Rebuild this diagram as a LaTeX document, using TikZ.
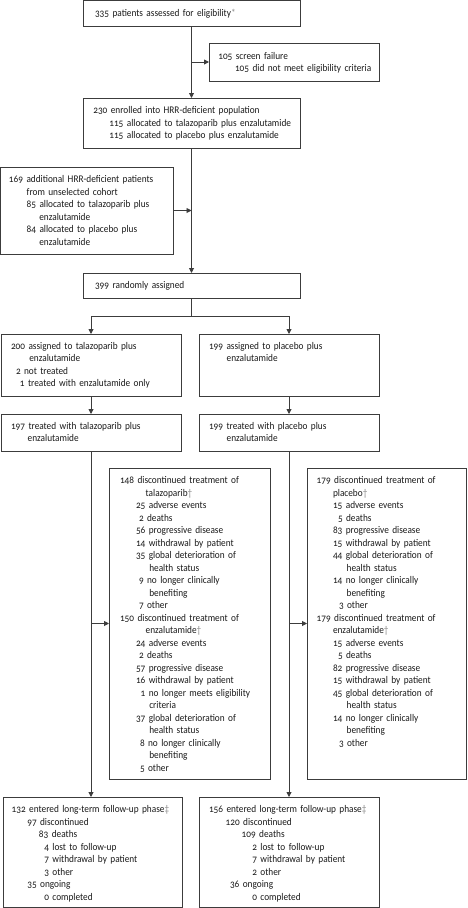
\documentclass[tikz,border=0pt]{standalone}
\usepackage{fontspec}
\setmainfont{Carlito}[Numbers=OldStyle, FakeStretch=0.91]
\usetikzlibrary{arrows.meta}
\definecolor{ln}{HTML}{3C3C3C}
\definecolor{tx}{HTML}{1A1A1A}
\definecolor{mk}{HTML}{8A8A8A}
\newcommand{\fs}{\rule{0pt}{9pt}}
\newcommand{\ind}[1]{\hspace*{#1pt}}
\newcommand{\dg}{{\color{mk}\textdagger}}
\newcommand{\ddg}{{\color{mk}\textdaggerdbl}}
\tikzset{
  frame/.style={draw=ln, line width=0.9pt, inner sep=0pt, outer sep=0pt, anchor=north west},
  txt/.style={anchor=north west, inner sep=0pt, outer sep=0pt, align=left, text width=220pt, text=tx, font=\fontsize{10.2}{12.5}\selectfont},
  conn/.style={draw=ln, line width=0.9pt},
  arr/.style={conn, -{Triangle[length=5pt,width=5pt]}},
}
\begin{document}
\begin{tikzpicture}[x=1pt,y=-1pt]
\useasboundingbox (0,0) rectangle (467,908);
% boxes
\node[frame, minimum width=217pt, minimum height=26pt] (b335) at (83,0.5) {};
\node[frame, minimum width=170pt, minimum height=38pt] (bscr) at (209,43) {};
\node[frame, minimum width=217pt, minimum height=50pt] (b230) at (83,98) {};
\node[frame, minimum width=172.5pt, minimum height=87pt] (b169) at (0.5,167) {};
\node[frame, minimum width=217pt, minimum height=25pt] (b399) at (83,273) {};
\node[frame, minimum width=180pt, minimum height=62pt] (b200) at (1,334) {};
\node[frame, minimum width=180pt, minimum height=62pt] (b199a) at (199,334) {};
\node[frame, minimum width=180pt, minimum height=37pt] (b197) at (1,414) {};
\node[frame, minimum width=180pt, minimum height=37pt] (b199t) at (199,414) {};
\node[frame, minimum width=161pt, minimum height=311pt] (b148) at (109,468) {};
\node[frame, minimum width=159pt, minimum height=311pt] (b179) at (307,468) {};
\node[frame, minimum width=179pt, minimum height=110pt] (bfl) at (3,797) {};
\node[frame, minimum width=180pt, minimum height=110pt] (bfr) at (199,797) {};
% texts
\node[txt] (t335) at (95,7.5) {\fs 335 patients assessed for eligibility{\color{mk}*}};
\node[txt] (tscr) at (218.3,50) {\fs 105 screen failure\\ \ind{16.7}105 did not meet eligibility criteria};
\node[txt] (t230) at (93.3,104.5) {\fs 230 enrolled into HRR-deficient population\\ \ind{16}115 allocated to talazoparib plus enzalutamide\\ \ind{16}115 allocated to placebo plus enzalutamide};
\node[txt] (t169) at (9,173.5) {\fs 169 additional HRR-deficient patients\\ \ind{17.7}from unselected cohort\\ \ind{17.7}85 allocated to talazoparib plus\\ \ind{30.3}enzalutamide\\ \ind{17.7}84 allocated to placebo plus\\ \ind{30.3}enzalutamide};
\node[txt] (t399) at (95,279.5) {\fs 399 randomly assigned};
\node[txt] (t200) at (11,340) {\fs 200 assigned to talazoparib plus\\ \ind{18.3}enzalutamide\\ \ind{5}2 not treated\\ \ind{9}1 treated with enzalutamide only};
\node[txt] (t199a) at (209,340) {\fs 199 assigned to placebo plus\\ \ind{17.7}enzalutamide};
\node[txt] (t197) at (11,420) {\fs 197 treated with talazoparib plus\\ \ind{16.7}enzalutamide};
\node[txt] (t199t) at (209,420) {\fs 199 treated with placebo plus\\ \ind{17.7}enzalutamide};
\node[txt] (t148) at (120,474.5) {\fs 148 discontinued treatment of\\
\ind{25.7}talazoparib\dg\\
\ind{16}25 adverse events\\
\ind{19}2 deaths\\
\ind{16}56 progressive disease\\
\ind{16}14 withdrawal by patient\\
\ind{16}35 global deterioration of\\
\ind{29.3}health status\\
\ind{19}9 no longer clinically\\
\ind{29.3}benefiting\\
\ind{19}7 other\\
150 discontinued treatment of\\
\ind{25.7}enzalutamide\dg\\
\ind{16}24 adverse events\\
\ind{19}2 deaths\\
\ind{16}57 progressive disease\\
\ind{16}16 withdrawal by patient\\
\ind{20.7}1 no longer meets eligibility\\
\ind{29.3}criteria\\
\ind{16}37 global deterioration of\\
\ind{29.3}health status\\
\ind{20}8 no longer clinically\\
\ind{29.3}benefiting\\
\ind{20}5 other};
\node[txt] (t179) at (316.7,474.5) {\fs 179 discontinued treatment of\\
\ind{16.3}placebo\dg\\
\ind{16.3}15 adverse events\\
\ind{21.3}5 deaths\\
\ind{16.3}83 progressive disease\\
\ind{16.3}15 withdrawal by patient\\
\ind{16.3}44 global deterioration of\\
\ind{30}health status\\
\ind{16.3}14 no longer clinically\\
\ind{30}benefiting\\
\ind{22.3}3 other\\
179 discontinued treatment of\\
\ind{16.3}enzalutamide\dg\\
\ind{16.3}15 adverse events\\
\ind{21.3}5 deaths\\
\ind{16.3}82 progressive disease\\
\ind{16.3}15 withdrawal by patient\\
\ind{16.3}45 global deterioration of\\
\ind{30}health status\\
\ind{16.3}14 no longer clinically\\
\ind{30}benefiting\\
\ind{22.3}3 other};
\node[txt] (tfl) at (11.7,803.5) {\fs 132 entered long-term follow-up phase\ddg\\
\ind{15.6}97 discontinued\\
\ind{27.3}83 deaths\\
\ind{32.6}4 lost to follow-up\\
\ind{32.6}7 withdrawal by patient\\
\ind{32.6}3 other\\
\ind{15.6}35 ongoing\\
\ind{32.6}0 completed};
\node[txt] (tfr) at (209,803.5) {\fs 156 entered long-term follow-up phase\ddg\\
\ind{16.7}120 discontinued\\
\ind{32.7}109 deaths\\
\ind{43.3}2 lost to follow-up\\
\ind{43.3}7 withdrawal by patient\\
\ind{43.3}2 other\\
\ind{21}36 ongoing\\
\ind{43.3}0 completed};
% connectors
\draw[arr] (b335.south) -- (b230.north);
\coordinate (jscr) at (b335.south |- bscr.west);
\draw[arr] (jscr) -- (bscr.west);
\draw[arr] (b230.south) -- (b399.north);
\draw[arr] (b169.east) -- (b169.east -| b230.south);
\draw[conn] (b399.south) -- (b399.south |- 0,316) coordinate (split);
\draw[arr] (split) -| (b200.north);
\draw[arr] (split) -| (b199a.north);
\draw[arr] (b200.south) -- (b197.north);
\draw[arr] (b199a.south) -- (b199t.north);
\draw[arr] (b197.south) -- (b197.south |- bfl.north);
\draw[arr] (b148.west -| b197.south) -- (b148.west);
\draw[arr] (b199t.south) -- (b199t.south |- bfr.north);
\draw[arr] (b179.west -| b199t.south) -- (b179.west);
\end{tikzpicture}
\end{document}
